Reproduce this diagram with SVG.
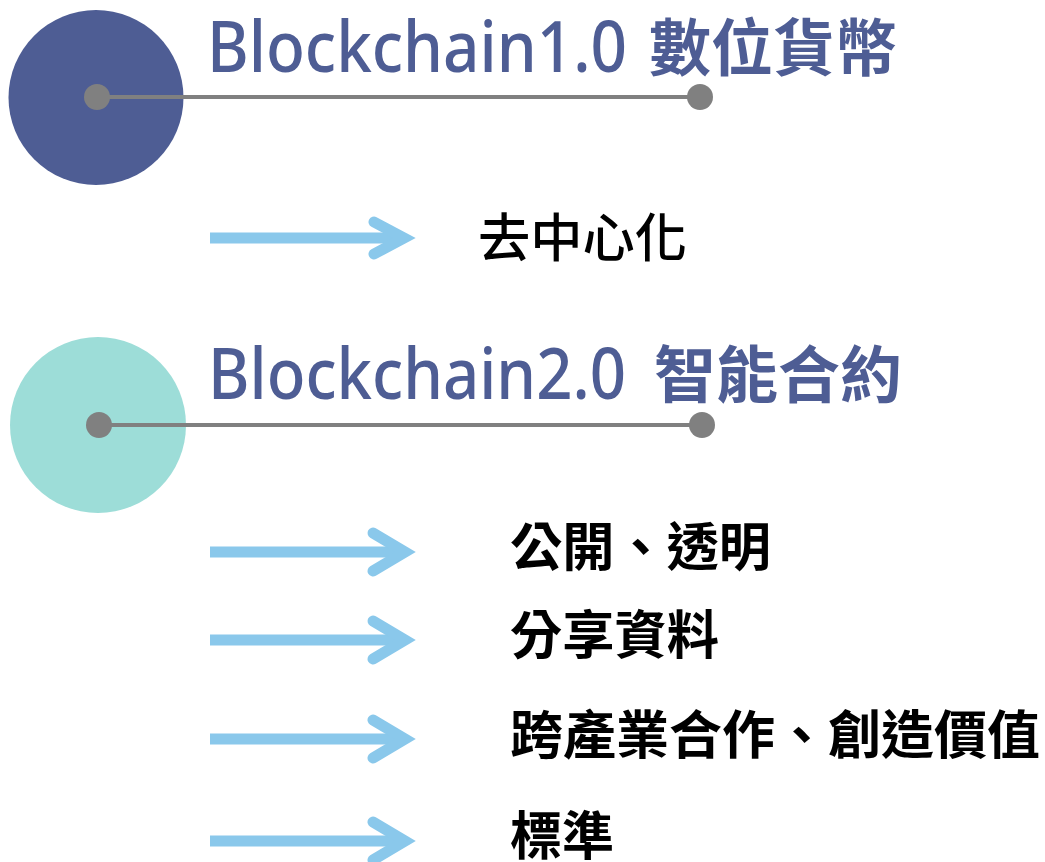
<svg xmlns="http://www.w3.org/2000/svg" width="1045" height="862" viewBox="0 0 1045 862">
<style>
.lat{font-family:"Noto Sans","Open Sans",sans-serif;font-size:70px;fill:#4E5D94;font-weight:500;}
.cjkt{font-family:"Noto Sans CJK TC","Noto Sans CJK SC",sans-serif;font-size:62px;fill:#4E5D94;font-weight:700;}
.item{font-family:"Noto Sans CJK TC","Noto Sans CJK SC",sans-serif;font-size:52px;fill:#000;font-weight:500;}
.bold{font-weight:700;}
.line{stroke:#808080;stroke-width:4;fill:none;}
.dot{fill:#808080;}
.shaft{stroke:#8AC8EB;stroke-width:11;fill:none;}
.head{stroke:#8AC8EB;stroke-width:11;fill:none;stroke-linecap:round;stroke-linejoin:miter;stroke-miterlimit:10;}
</style>
<rect width="1045" height="862" fill="#fff"/>
<g id="node-blockchain1">
<circle cx="96" cy="97.5" r="87.5" fill="#4E5D94"/>
<text class="lat" x="207" y="72" textLength="420" lengthAdjust="spacingAndGlyphs">Blockchain1.0</text>
<text class="cjkt" x="649" y="71" textLength="248" lengthAdjust="spacingAndGlyphs">數位貨幣</text>
</g>
<g id="node-blockchain2">
<circle cx="98" cy="425" r="88" fill="#9DDDD8"/>
<text class="lat" x="208" y="399" textLength="418" lengthAdjust="spacingAndGlyphs">Blockchain2.0</text>
<text class="cjkt" x="654" y="398" textLength="248" lengthAdjust="spacingAndGlyphs">智能合約</text>
</g>
<g id="connectors">
<line class="line" x1="97" y1="97" x2="700" y2="97"/>
<circle class="dot" cx="97" cy="97" r="13"/>
<circle class="dot" cx="700" cy="97" r="13"/>
<line class="line" x1="99" y1="425" x2="702" y2="425"/>
<circle class="dot" cx="99" cy="425" r="13"/>
<circle class="dot" cx="702" cy="425" r="13"/>
<line class="shaft" x1="210" y1="238" x2="400" y2="238"/>
<polyline class="head" points="374,222 404,238 374,254"/>
<line class="shaft" x1="210" y1="552" x2="400" y2="552"/>
<polyline class="head" points="373,533 405,552 373,571"/>
<line class="shaft" x1="210" y1="640" x2="400" y2="640"/>
<polyline class="head" points="373,621 405,640 373,659"/>
<line class="shaft" x1="210" y1="739" x2="400" y2="739"/>
<polyline class="head" points="373,720 405,739 373,758"/>
<line class="shaft" x1="210" y1="841" x2="400" y2="841"/>
<polyline class="head" points="373,822 405,841 373,860"/>
</g>
<g id="node-decentral">
<text class="item" x="478" y="257" textLength="209" lengthAdjust="spacingAndGlyphs">去中心化</text>
</g>
<g id="node-open">
<text class="item bold" x="510" y="566" textLength="261" lengthAdjust="spacingAndGlyphs">公開、透明</text>
</g>
<g id="node-share">
<text class="item bold" x="510" y="654" textLength="209" lengthAdjust="spacingAndGlyphs">分享資料</text>
</g>
<g id="node-cross">
<text class="item bold" x="510" y="754" textLength="530" lengthAdjust="spacingAndGlyphs">跨產業合作、創造價值</text>
</g>
<g id="node-standard">
<text class="item bold" x="510" y="855" textLength="104" lengthAdjust="spacingAndGlyphs">標準</text>
</g>
</svg>
